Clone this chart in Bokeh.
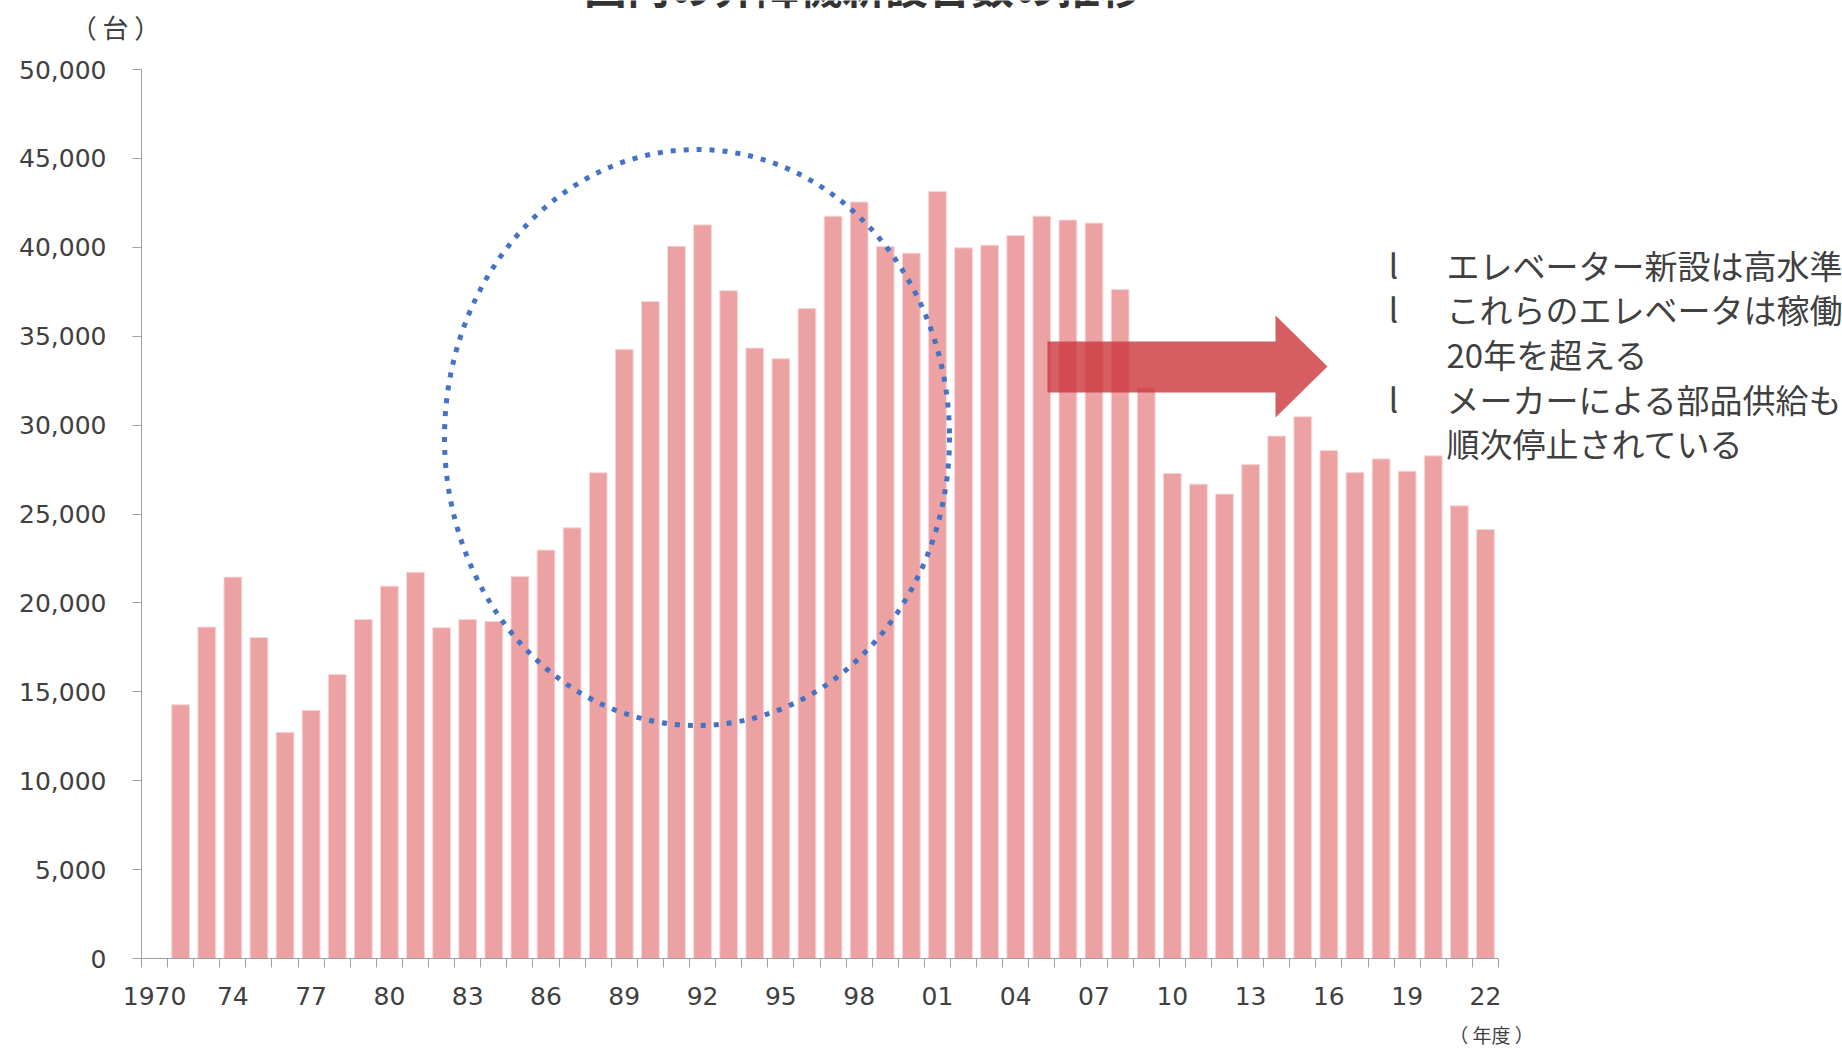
from bokeh.plotting import figure
from bokeh.models import Range1d, FixedTicker, NumeralTickFormatter, Label, ColumnDataSource
from bokeh.embed import file_html
from bokeh.resources import INLINE

# ---------------- data ----------------
fiscal_years = [1972, 1973, 1974, 1975, 1976, 1977, 1978, 1979, 1980, 1981,
                1982, 1983, 1984, 1985, 1986, 1987, 1988, 1989, 1990, 1991,
                1992, 1993, 1994, 1995, 1996, 1997, 1998, 1999, 2000, 2001,
                2002, 2003, 2004, 2005, 2006, 2007, 2008, 2009, 2010, 2011,
                2012, 2013, 2014, 2015, 2016, 2017, 2018, 2019, 2020, 2021, 2022]
new_units = [14270, 18640, 21450, 18050, 12720, 13960, 15970, 19070, 20940, 21720,
             18600, 19070, 18950, 21480, 22970, 24220, 27320, 34260, 36950, 40060,
             41260, 37560, 34330, 33730, 36560, 41750, 42550, 40040, 39670, 43140,
             39970, 40120, 40660, 41750, 41530, 41360, 37630, 32090, 27280, 26680,
             26120, 27780, 29380, 30470, 28570, 27330, 28100, 27410, 28270, 25460, 24130]
tick_years = [1971, 1974, 1977, 1980, 1983, 1986, 1989, 1992, 1995, 1998,
              2001, 2004, 2007, 2010, 2013, 2016, 2019, 2022]
tick_labels = ["1970", "74", "77", "80", "83", "86", "89", "92", "95", "98",
               "01", "04", "07", "10", "13", "16", "19", "22"]
y_ticks = [0, 5000, 10000, 15000, 20000, 25000, 30000, 35000, 40000, 45000, 50000]

title_text = "国内の昇降機新設台数の推移"
y_unit = "（ 台 ）"
x_unit = "（ 年度 ）"
notes = ["エレベーター新設は高水準", "これらのエレベータは稼働", "20年を超える",
         "メーカーによる部品供給も", "順次停止されている"]
bullet_rows = [0, 1, 3]

# ---------------- layout ----------------
W, H = 1842, 1048
# pixel position of the axis box inside the canvas
AL, AR, AT, AB = 141, 1498, 69, 958
X0, X1 = 1970.5, 2022.5        # category boundaries covered by the x axis
Y0, Y1 = 0, 50000              # value span covered by the y axis
PX_X = (AR - AL) / (X1 - X0)
PX_Y = (AB - AT) / (Y1 - Y0)


def dx(px):
    return X0 + (px - AL) / PX_X


def dy(py):
    return Y0 + (AB - py) / PX_Y


# the plotting frame covers the whole canvas so nothing gets clipped;
# the axes are pinned to the chart box with fixed_location + bounds
p = figure(width=W, height=H, x_range=Range1d(dx(0), dx(W)), y_range=Range1d(dy(H), dy(0)),
           output_backend="svg", toolbar_location=None, title=None,
           min_border=0, min_border_left=0, min_border_right=0,
           min_border_top=0, min_border_bottom=0)
p.outline_line_color = None
p.grid.visible = False
p.background_fill_color = "white"
p.border_fill_color = "white"

TEXT = "#404040"
AXIS = "#a0a0a0"

src = ColumnDataSource(dict(year=fiscal_years, units=new_units))
p.vbar(x="year", top="units", width=0.68, source=src,
       fill_color="#eca1a3", line_color="#f6d6d7", line_width=1)

# dotted circle highlighting the bubble-era peak
p.ellipse(x=dx(696.5), y=dy(437), width=505 / PX_X, height=576 / PX_Y,
          fill_color=None, line_color="#4472c4", line_width=5, line_dash="5 8")

# block arrow
ax = [dx(1047), dx(1275), dx(1275), dx(1327), dx(1275), dx(1275), dx(1047)]
ay = [dy(341), dy(341), dy(315), dy(366), dy(417), dy(392), dy(392)]
p.patch(ax, ay, fill_color="#cc363b", fill_alpha=0.8, line_color=None)

# axes
TICKFONT = "DejaVu Sans"
yax = p.yaxis[0]
yax.fixed_location = X0
yax.bounds = (Y0, Y1)
yax.ticker = FixedTicker(ticks=y_ticks)
yax.formatter = NumeralTickFormatter(format="0,0")
yax.major_label_text_font = TICKFONT
yax.major_label_text_font_size = "25px"
yax.major_label_text_color = TEXT
yax.major_tick_out = 9
yax.major_tick_in = 0
yax.minor_tick_out = 0
yax.minor_tick_in = 0
yax.axis_line_color = AXIS
yax.major_tick_line_color = AXIS
yax.major_label_standoff = 26

xax = p.xaxis[0]
xax.fixed_location = Y0
xax.bounds = (X0, X1)
xax.ticker = FixedTicker(ticks=tick_years,
                         minor_ticks=[y - 0.5 for y in range(1971, 2024)])
xax.major_label_overrides = {y: l for y, l in zip(tick_years, tick_labels)}
xax.major_label_text_font = TICKFONT
xax.major_label_text_font_size = "25px"
xax.major_label_text_color = TEXT
xax.major_tick_out = 0
xax.major_tick_in = 0
xax.minor_tick_out = 9
xax.minor_tick_in = 0
xax.axis_line_color = AXIS
xax.minor_tick_line_color = AXIS
xax.major_label_standoff = 19

JP = "Noto Sans CJK JP"


def add_text(px, py, text, size, align="left", baseline="middle", color=TEXT, style="normal"):
    p.add_layout(Label(x=dx(px), y=dy(py), text=text, text_font=JP, text_font_size=size,
                       text_font_style=style, text_color=color,
                       text_align=align, text_baseline=baseline))


# title: only its lower edge shows at the top of the picture
add_text(863, -16, title_text, "43px", align="center", baseline="alphabetic",
         color="#333333", style="bold")
add_text(115, 26, y_unit, "26px", align="center")
add_text(1491, 1034, x_unit, "19px", align="center")

row_y = [264, 308, 353, 398, 442]
for i, (t, ry) in enumerate(zip(notes, row_y)):
    add_text(1446, ry, t, "33px")
    if i in bullet_rows:
        add_text(1393, ry, "l", "33px", align="center")

open("out.html", "w").write(file_html(p, INLINE))
